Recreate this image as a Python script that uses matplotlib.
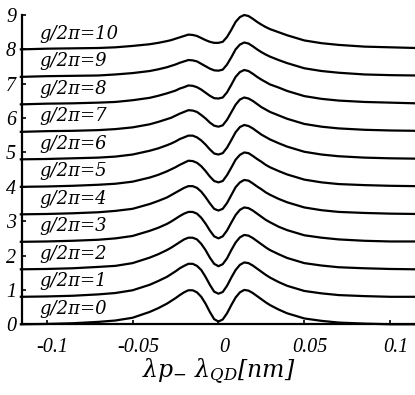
import matplotlib
matplotlib.use("Agg")
import matplotlib.pyplot as plt
import matplotlib.transforms as mtransforms

plt.rcParams['font.family'] = ['DejaVu Serif']
plt.rcParams['font.style'] = 'italic'
plt.rcParams['mathtext.fontset'] = 'dejavuserif'
plt.rcParams['axes.unicode_minus'] = False

# detuning (nm) where the curves were read
detuning = [-0.115, -0.1, -0.085, -0.07, -0.06, -0.05, -0.04, -0.035,
            -0.03, -0.0275, -0.025, -0.0225, -0.02, -0.0175, -0.015, -0.0125,
            -0.01, -0.0075, -0.005, -0.0025, 0.0, 0.0025, 0.005, 0.0075,
            0.01, 0.0125, 0.015, 0.0175, 0.02, 0.0225, 0.025, 0.0275,
            0.03, 0.035, 0.04, 0.05, 0.06, 0.07, 0.085, 0.1, 0.115]

# spectra for g/2pi = 0..10 (before vertical offset)
g0 = [0.00, 0.01, 0.03, 0.07, 0.11, 0.19, 0.36, 0.47, 0.60, 0.68, 0.76, 0.85, 0.93, 0.99,
      0.99, 0.93, 0.80, 0.60, 0.36, 0.15, 0.08, 0.14, 0.32, 0.56, 0.78, 0.93, 1.00, 0.98,
      0.91, 0.82, 0.73, 0.64, 0.56, 0.43, 0.32, 0.17, 0.10, 0.05, 0.02, 0.00, 0.00]
g1 = [0.00, 0.01, 0.03, 0.07, 0.11, 0.19, 0.35, 0.46, 0.58, 0.66, 0.74, 0.83, 0.90, 0.96,
      0.96, 0.90, 0.78, 0.58, 0.35, 0.15, 0.09, 0.14, 0.32, 0.56, 0.78, 0.93, 1.00, 0.98,
      0.91, 0.82, 0.73, 0.64, 0.56, 0.43, 0.32, 0.17, 0.10, 0.05, 0.02, 0.00, 0.00]
g2 = [0.00, 0.01, 0.03, 0.07, 0.10, 0.18, 0.34, 0.44, 0.56, 0.63, 0.71, 0.79, 0.87, 0.92,
      0.92, 0.87, 0.74, 0.56, 0.34, 0.16, 0.09, 0.15, 0.32, 0.56, 0.78, 0.93, 1.00, 0.98,
      0.91, 0.82, 0.73, 0.64, 0.56, 0.44, 0.33, 0.18, 0.11, 0.06, 0.03, 0.01, 0.00]
g3 = [0.00, 0.01, 0.03, 0.06, 0.10, 0.17, 0.32, 0.41, 0.52, 0.59, 0.67, 0.75, 0.82, 0.87,
      0.87, 0.82, 0.70, 0.53, 0.33, 0.16, 0.10, 0.16, 0.33, 0.56, 0.78, 0.93, 1.00, 0.98,
      0.91, 0.82, 0.73, 0.64, 0.57, 0.44, 0.34, 0.19, 0.12, 0.07, 0.03, 0.01, 0.01]
g4 = [0.00, 0.01, 0.03, 0.06, 0.10, 0.16, 0.30, 0.39, 0.49, 0.56, 0.63, 0.70, 0.77, 0.82,
      0.82, 0.77, 0.66, 0.50, 0.32, 0.16, 0.11, 0.16, 0.33, 0.56, 0.79, 0.93, 1.00, 0.98,
      0.90, 0.81, 0.73, 0.64, 0.57, 0.45, 0.35, 0.20, 0.12, 0.07, 0.04, 0.02, 0.01]
g5 = [0.00, 0.01, 0.03, 0.06, 0.09, 0.15, 0.27, 0.35, 0.45, 0.51, 0.57, 0.64, 0.70, 0.76,
      0.75, 0.70, 0.60, 0.46, 0.30, 0.17, 0.13, 0.17, 0.34, 0.56, 0.79, 0.93, 1.00, 0.98,
      0.90, 0.81, 0.73, 0.64, 0.57, 0.46, 0.36, 0.21, 0.13, 0.08, 0.05, 0.03, 0.02]
g6 = [0.00, 0.01, 0.03, 0.05, 0.08, 0.14, 0.25, 0.32, 0.41, 0.46, 0.52, 0.59, 0.64, 0.69,
      0.69, 0.64, 0.55, 0.43, 0.29, 0.17, 0.14, 0.18, 0.34, 0.56, 0.79, 0.94, 1.00, 0.97,
      0.90, 0.81, 0.72, 0.65, 0.58, 0.47, 0.37, 0.22, 0.14, 0.09, 0.05, 0.03, 0.02]
g7 = [0.00, 0.02, 0.03, 0.05, 0.08, 0.13, 0.22, 0.29, 0.37, 0.41, 0.47, 0.53, 0.58, 0.63,
      0.62, 0.58, 0.49, 0.39, 0.27, 0.18, 0.15, 0.19, 0.35, 0.57, 0.79, 0.94, 1.00, 0.97,
      0.90, 0.81, 0.72, 0.65, 0.58, 0.48, 0.38, 0.23, 0.15, 0.10, 0.06, 0.04, 0.03]
g8 = [0.00, 0.02, 0.03, 0.05, 0.07, 0.12, 0.19, 0.25, 0.32, 0.36, 0.40, 0.46, 0.50, 0.55,
      0.54, 0.50, 0.43, 0.34, 0.25, 0.18, 0.17, 0.20, 0.35, 0.57, 0.80, 0.94, 1.00, 0.97,
      0.89, 0.80, 0.72, 0.65, 0.58, 0.49, 0.39, 0.24, 0.16, 0.11, 0.07, 0.05, 0.03]
g9 = [0.00, 0.02, 0.03, 0.04, 0.07, 0.11, 0.17, 0.22, 0.28, 0.32, 0.36, 0.41, 0.45, 0.49,
      0.48, 0.45, 0.38, 0.31, 0.24, 0.19, 0.18, 0.21, 0.36, 0.57, 0.80, 0.94, 1.00, 0.97,
      0.89, 0.80, 0.72, 0.65, 0.59, 0.49, 0.40, 0.25, 0.17, 0.12, 0.07, 0.05, 0.04]
g10 = [0.00, 0.02, 0.03, 0.04, 0.06, 0.10, 0.15, 0.19, 0.24, 0.27, 0.31, 0.35, 0.39, 0.43,
       0.42, 0.39, 0.33, 0.27, 0.22, 0.19, 0.19, 0.22, 0.36, 0.57, 0.80, 0.94, 1.00, 0.97,
       0.89, 0.80, 0.72, 0.65, 0.59, 0.50, 0.41, 0.26, 0.18, 0.13, 0.08, 0.06, 0.04]

spectra = [g0, g1, g2, g3, g4, g5, g6, g7, g8, g9, g10]
offsets = [0.0, 0.8, 1.6, 2.4, 3.2, 4.0, 4.8, 5.6, 6.4, 7.2, 8.0]
labels = ['g/2π=0', 'g/2π=1', 'g/2π=2', 'g/2π=3', 'g/2π=4', 'g/2π=5',
          'g/2π=6', 'g/2π=7', 'g/2π=8', 'g/2π=9', 'g/2π=10']

fig = plt.figure(figsize=(4.15, 3.95), dpi=100)
ax = fig.add_axes([0.0523, 0.179, 0.9477, 0.783])

for spec, off, lab in zip(spectra, offsets, labels):
    ax.plot(detuning, [v + off for v in spec], color='black', lw=1.6,
            solid_joinstyle='round', clip_on=False)
    ax.text(-0.1045, off + 0.45, lab, fontsize=13, ha='left', va='center',
            family='DejaVu Serif', style='italic')

ax.set_xlim(-0.1145, 0.1144)
ax.set_ylim(0, 9)
ax.set_xticks([-0.1, -0.05, 0, 0.05, 0.1])
ax.set_xticklabels(['-0.1', '-0.05', '0', '0.05', '0.1'])
ax.set_yticks(range(10))
ax.set_yticklabels([str(i) for i in range(10)])
ax.tick_params(direction='in', length=3, width=1.2, pad=4)
ax.tick_params(axis='x', pad=10)

for s in ['top', 'right']:
    ax.spines[s].set_visible(False)
for s in ['left', 'bottom']:
    ax.spines[s].set_linewidth(1.6)

shift = mtransforms.ScaledTranslation(6 / 100, 0, fig.dpi_scale_trans)
for lab in ax.get_xticklabels():
    lab.set_transform(lab.get_transform() + shift)
for lab in ax.get_xticklabels() + ax.get_yticklabels():
    lab.set_fontfamily('Liberation Serif')
    lab.set_fontstyle('italic')
    lab.set_fontsize(14.5)

ax.set_xlabel(r'$\lambda p_{-}\ \lambda_{QD}[nm]$', fontsize=17, labelpad=-1)

fig.savefig('out.png', dpi=100)
